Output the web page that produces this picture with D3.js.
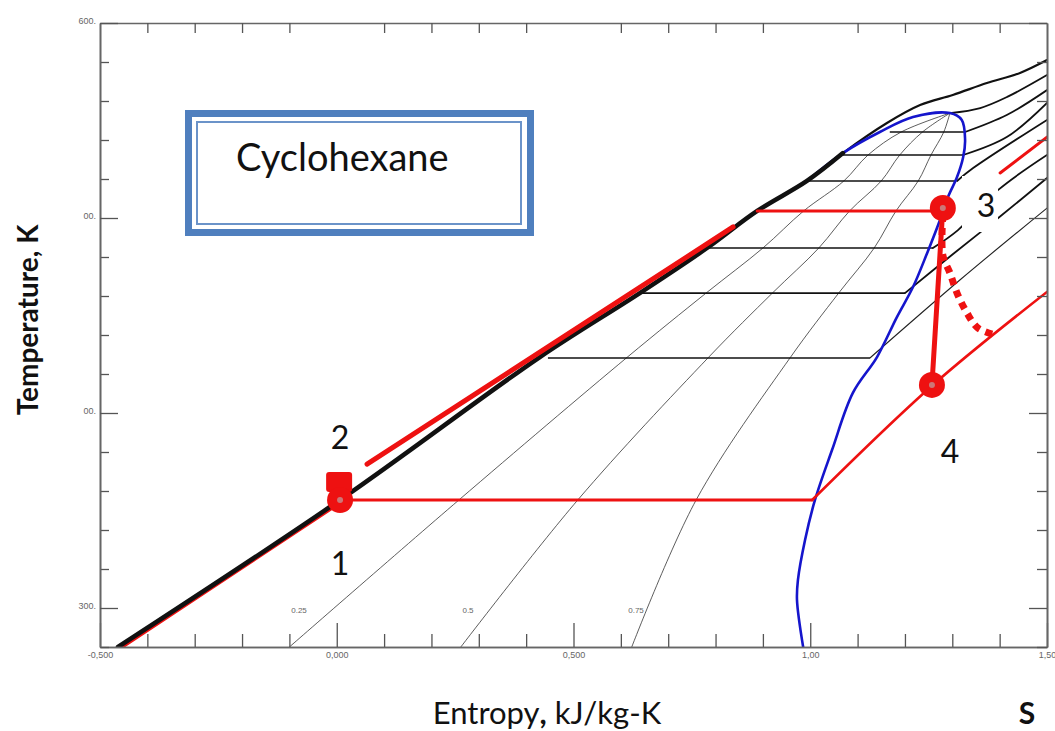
<!DOCTYPE html>
<html>
<head>
<meta charset="utf-8">
<script src="https://cdn.jsdelivr.net/npm/d3@7"></script>
<style>
  body { margin: 0; background: #fff; }
  text { font-family: Lato, "Open Sans", sans-serif; }
</style>
</head>
<body>
<script>
// ---- data (s in kJ/kg-K, T in K) ----
const xMajor = [-0.5, 0, 0.5, 1.0, 1.5];
const xTickLabels = ["-0,500", "0,000", "0,500", "1,00", "1,50"];
const yMajor = [300, 400, 500, 600];
const yTickLabels = ["300.", "00.", "00.", "600."];

const liquidLine = [[-0.462, 280], [0.007, 355.4], [0.429, 428.7], [0.640, 461.5],
  [0.782, 484.6], [0.888, 503.6], [0.993, 519.0], [1.069, 533.3]];
const domeLine = [[0.993, 519.0], [1.069, 533.3], [1.147, 544.1], [1.217, 551.8],
  [1.295, 553.8], [1.320, 550.3], [1.327, 540.0], [1.323, 531.3], [1.310, 521.0],
  [1.291, 510.8], [1.274, 499.0], [1.247, 482.1], [1.217, 464.6], [1.183, 449.2],
  [1.141, 428.7], [1.090, 410.3], [1.046, 381.0], [1.010, 355.4], [0.989, 334.9],
  [0.974, 314.4], [0.972, 304.1], [0.985, 280]];
const topIsobar = [[0.993, 519.0], [1.069, 533.3], [1.162, 548.7], [1.232, 557.9],
  [1.301, 563.1], [1.373, 569.2], [1.443, 574.4], [1.5, 581.0]];
const critIsobar = [[1.295, 553.8], [1.359, 556.4], [1.416, 562.1], [1.5, 573.3]];

const satTemps = [428.2, 461.5, 484.6, 519.0, 532.3, 544.1];
const satSLiq = [0.446, 0.640, 0.782, 0.993, 1.069, 1.168];
const satSVap = [1.126, 1.200, 1.259, 1.306, 1.323, 1.327];

const superA = [[1.327, 544.1], [1.415, 552.8], [1.5, 565.6]];
const superB = [[1.323, 532.3], [1.415, 541.5], [1.5, 559.0]];
const superC = [[1.310, 519.0], [1.344, 525.6], [1.5, 550.3]];
const superE = [[1.259, 484.6], [1.312, 493.8], [1.397, 514.4], [1.5, 532.3]];
const superF = [[1.200, 461.5], [1.299, 481.0], [1.365, 493.8], [1.397, 500.0], [1.5, 520.5]];
const superG = [[1.126, 428.2], [1.316, 468.2], [1.5, 505.1]];

const qualityValues = ["0.25", "0.5", "0.75"];
const q25 = [[-0.100, 280], [0.258, 355.4], [0.613, 428.5], [0.780, 461.5], [0.900, 484.6],
  [0.986, 503.6], [1.071, 519.0], [1.122, 532.3], [1.192, 544.1], [1.295, 553.8]];
const q50 = [[0.262, 280], [0.509, 355.4], [0.785, 428.5], [0.920, 461.5], [1.018, 484.6],
  [1.083, 503.6], [1.150, 519.0], [1.189, 532.3], [1.237, 544.1], [1.295, 553.8]];
const q75 = [[0.623, 280], [0.759, 355.4], [0.958, 428.5], [1.060, 461.5], [1.135, 484.6],
  [1.181, 503.6], [1.228, 519.0], [1.255, 532.3], [1.282, 544.1], [1.295, 553.8]];

const pt1 = [0.007, 355.4], pt2 = [0.005, 364.6], pt3 = [1.280, 505.1], pt4 = [1.257, 414.4];
const heatLine = [[0.064, 373.8], [0.837, 495.4]];
const evapLine = [[0.888, 503.6], [1.280, 503.6]];
const condLine = [[0.007, 355.4], [1.004, 355.4]];
const desupLine = [[1.004, 355.4], [1.259, 414.4], [1.5, 462.1]];
const redUpper = [[1.401, 523.1], [1.5, 541.5]];
const realExpansion = [[1.280, 501.5], [1.280, 481.0], [1.295, 471.8], [1.310, 461.5],
  [1.331, 451.3], [1.354, 443.6], [1.390, 440.0]];

// ---- layout ----
const W = 1055, H = 731;
const x = d3.scaleLinear().domain([-0.5, 1.5]).range([100, 1047]);
const y = d3.scaleLinear().domain([280, 600]).range([647, 23]);
const red = "#ee1111";

const svg = d3.select("body").append("svg").attr("width", W).attr("height", H);
svg.append("rect").attr("width", W).attr("height", H).attr("fill", "#fff");

svg.append("clipPath").attr("id", "plot")
  .append("rect").attr("x", 100).attr("y", 23).attr("width", 947).attr("height", 624);

const line = d3.line().x(d => x(d[0])).y(d => y(d[1])).curve(d3.curveCatmullRom);
const g = svg.append("g").attr("clip-path", "url(#plot)");

function path(data, color, width, extra) {
  const p = g.append("path").datum(data).attr("d", line)
    .attr("fill", "none").attr("stroke", color).attr("stroke-width", width)
    .attr("stroke-linecap", "round").attr("stroke-linejoin", "round");
  if (extra) extra(p);
  return p;
}

// quality lines
[q25, q50, q75].forEach(q => path(q, "#333", 0.8));
g.selectAll(".qlab").data(qualityValues).enter().append("text")
  .attr("x", (d, i) => [299, 468, 636][i]).attr("y", 613)
  .attr("text-anchor", "middle").attr("font-size", 8).attr("fill", "#666")
  .style("font-family", "Liberation Sans, Arial, sans-serif")
  .text(d => d);

// horizontal isobars inside the dome
g.selectAll(".sat").data(satTemps).enter().append("line")
  .attr("x1", (d, i) => x(satSLiq[i])).attr("x2", (d, i) => x(satSVap[i]))
  .attr("y1", d => y(d)).attr("y2", d => y(d))
  .attr("stroke", "#111").attr("stroke-width", 1.6);

// superheated isobars
[superA, superB, superC, superE, superF].forEach(s => path(s, "#111", 1.8));
path(superG, "#222", 1.1);
path(topIsobar, "#111", 2.2);
path(critIsobar, "#111", 1.8);

// saturation dome
path(domeLine, "#1515cc", 2.6);
// liquid line with red shade
path(liquidLine.slice(0, 2), red, 2.5, p => p.attr("transform", "translate(2,2)"));
path(liquidLine, "#111", 4.5);

// white label patch near point 3
g.append("rect").attr("x", 962).attr("y", 176).attr("width", 36).attr("height", 56).attr("fill", "#fff");

// cycle
path(heatLine, red, 5);
path(redUpper, red, 3);
path(evapLine, red, 3);
path(condLine, red, 3);
path(desupLine, red, 2.6);
path(realExpansion, red, 7, p => p.attr("stroke-dasharray", "7,6").attr("stroke-linecap", "butt"));
path([pt3, pt4], red, 5);

// markers
g.append("rect").attr("x", x(pt2[0]) - 13).attr("y", y(pt2[1]) - 10)
  .attr("width", 26).attr("height", 20).attr("rx", 3).attr("fill", red);
[pt1, pt3, pt4].forEach(p => {
  g.append("circle").attr("cx", x(p[0])).attr("cy", y(p[1])).attr("r", 13).attr("fill", red);
  g.append("circle").attr("cx", x(p[0])).attr("cy", y(p[1])).attr("r", 3).attr("fill", "#c77");
});

// ---- axes ----
const xMinor = d3.range(-4, 15).map(i => i / 10).filter(v => !xMajor.some(m => Math.abs(m - v) < 1e-6));
const yMinor = d3.range(280, 601, 20).filter(v => yMajor.indexOf(v) < 0);
const axisStyle = sel => {
  sel.select(".domain").attr("stroke", "#666").attr("stroke-width", 1.6);
  sel.selectAll(".tick line").attr("stroke", "#555").attr("stroke-width", 1.3);
  sel.selectAll(".tick text").attr("fill", "#666").attr("font-size", 9)
    .style("font-family", "Liberation Sans, Arial, sans-serif");
};

svg.append("g").attr("transform", "translate(0,647)")
  .call(d3.axisBottom(x).tickValues(xMinor).tickSize(-13).tickSizeOuter(0).tickFormat(""))
  .call(axisStyle);
svg.append("g").attr("transform", "translate(0,647)")
  .call(d3.axisBottom(x).tickValues(xMajor).tickSize(-24).tickSizeOuter(0).tickPadding(5)
    .tickFormat((d, i) => xTickLabels[i]))
  .call(axisStyle);
svg.append("g").attr("transform", "translate(0,23)")
  .call(d3.axisTop(x).tickValues(xMinor).tickSize(-10).tickSizeOuter(0).tickFormat(""))
  .call(axisStyle);
svg.append("g").attr("transform", "translate(100,0)")
  .call(d3.axisLeft(y).tickValues(yMinor).tickSize(-9).tickSizeOuter(0).tickFormat(""))
  .call(axisStyle);
svg.append("g").attr("transform", "translate(100,0)")
  .call(d3.axisLeft(y).tickValues(yMajor).tickSize(-18).tickSizeOuter(0).tickPadding(4)
    .tickFormat((d, i) => yTickLabels[i]))
  .call(axisStyle)
  .selectAll(".tick text").attr("dy", "0.05em");
svg.append("g").attr("transform", "translate(1047,0)")
  .call(d3.axisRight(y).tickValues(yMinor).tickSize(-10).tickSizeOuter(0).tickFormat(""))
  .call(axisStyle);
svg.append("g").attr("transform", "translate(1047,0)")
  .call(d3.axisRight(y).tickValues(yMajor).tickSize(-18).tickSizeOuter(0).tickFormat(""))
  .call(axisStyle);

// ---- titles and labels ----
svg.append("text").attr("transform", "translate(38,320) rotate(-90)")
  .attr("text-anchor", "middle").attr("font-size", 28).attr("font-weight", "bold")
  .attr("fill", "#111").text("Temperature, K");
const xt = svg.append("text").attr("x", 547).attr("y", 724).attr("text-anchor", "middle")
  .attr("font-size", 31).attr("fill", "#111");
xt.append("tspan").text("Entropy");
xt.append("tspan").attr("font-weight", "bold").text(",");
xt.append("tspan").text(" kJ/kg-K");
svg.append("text").attr("x", 1027).attr("y", 724).attr("text-anchor", "middle")
  .attr("font-size", 30).attr("font-weight", "bold").attr("fill", "#111").text("S");

// name box
svg.append("rect").attr("x", 188.5).attr("y", 113.5).attr("width", 342).attr("height", 119)
  .attr("fill", "#fff").attr("stroke", "#4f7fbe").attr("stroke-width", 7);
svg.append("rect").attr("x", 197).attr("y", 122).attr("width", 324).attr("height", 102)
  .attr("fill", "none").attr("stroke", "#6b93c9").attr("stroke-width", 2);
svg.append("text").attr("x", 236).attr("y", 171).attr("font-size", 38)
  .attr("fill", "#111").text("Cyclohexane");

// state numbers
const numLabels = ["1", "2", "3", "4"];
const numPos = [[340, 575], [340, 449], [986, 217], [950, 463]];
svg.selectAll(".num").data(numLabels).enter().append("text")
  .attr("x", (d, i) => numPos[i][0]).attr("y", (d, i) => numPos[i][1])
  .attr("text-anchor", "middle").attr("font-size", 32).attr("fill", "#111")
  .text(d => d);
</script>
</body>
</html>
